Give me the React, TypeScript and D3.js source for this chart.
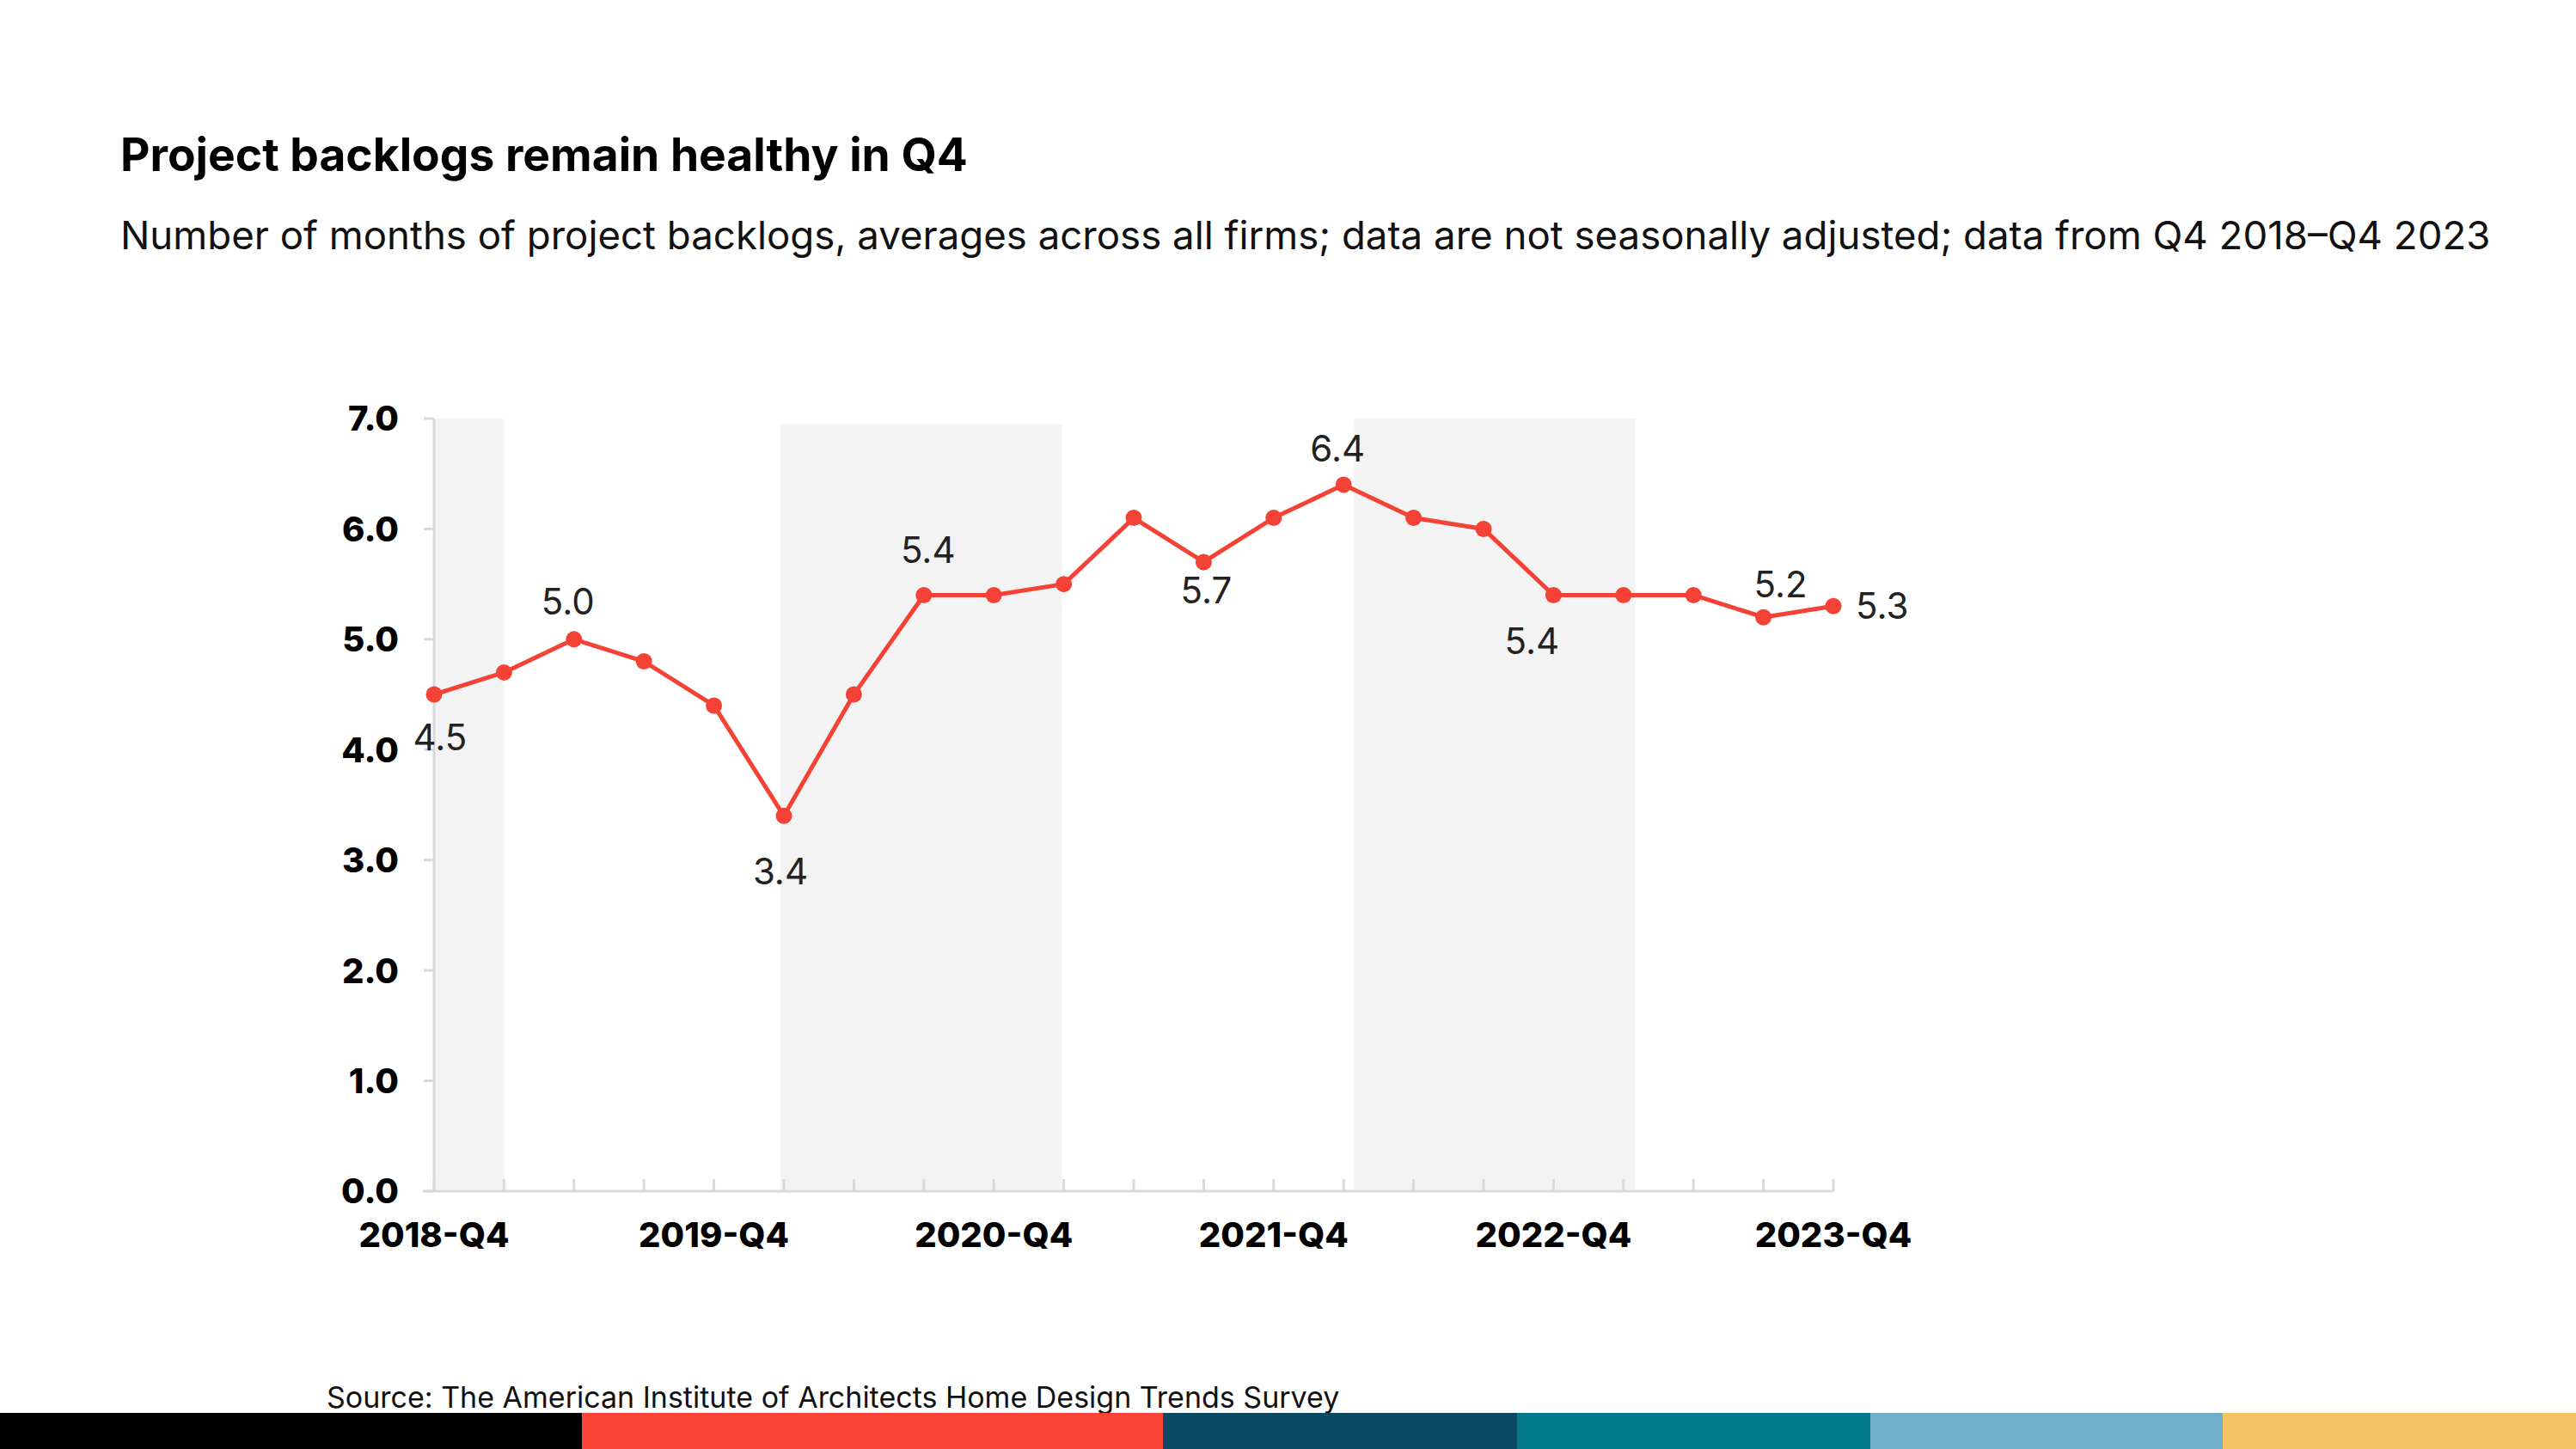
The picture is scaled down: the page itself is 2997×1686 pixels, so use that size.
import React from "react";
import * as d3 from "d3";

const quarters = [
  "2018-Q4","2019-Q1","2019-Q2","2019-Q3","2019-Q4","2020-Q1","2020-Q2","2020-Q3","2020-Q4",
  "2021-Q1","2021-Q2","2021-Q3","2021-Q4","2022-Q1","2022-Q2","2022-Q3","2022-Q4",
  "2023-Q1","2023-Q2","2023-Q3","2023-Q4",
];
const xTickLabels = ["2018-Q4","2019-Q4","2020-Q4","2021-Q4","2022-Q4","2023-Q4"];
const xTickLabelIdx = [0, 4, 8, 12, 16, 20];
const backlog = [4.5, 4.7, 5.0, 4.8, 4.4, 3.4, 4.5, 5.4, 5.4, 5.5, 6.1, 5.7, 6.1, 6.4, 6.1, 6.0, 5.4, 5.4, 5.4, 5.2, 5.3];
const yTicks = [0, 1, 2, 3, 4, 5, 6, 7];
// shaded bands: [startIndex, endIndex, topValue]
const bands: [number, number, number][] = [
  [0, 1, 7.0],
  [4.95, 8.97, 6.95],
  [13.15, 17.17, 7.0],
];
// annotated points
const labelIdx = [0, 2, 5, 7, 11, 13, 16, 19, 20];
const labelDx = [7, -7, -4, 5, 3, -7, -25, 20, 26];
const labelDy = [65, -29, 80, -37, 48, -27, 69, -23, 15];
const labelAnchor = ["middle", "middle", "middle", "middle", "middle", "middle", "middle", "middle", "start"];
const stripeColors = ["#000000", "#F94437", "#0A4A62", "#007A8A", "#70AFC9", "#F3C562"];
const stripeStops = [0, 677, 1353, 1765, 2176, 2586, 2997];

const W = 2997, H = 1686;
const FONT = "Inter, 'Noto Sans', sans-serif";

export default function App() {
  const x = d3.scaleLinear().domain([0, quarters.length - 1]).range([505, 2133]);
  const y = d3.scaleLinear().domain([0, 7]).range([1386, 487]);
  const line = d3.line<number>().x((_, i) => x(i)).y((d) => y(d));
  const axisColor = "#d9d9d9";

  return (
    <svg width={W} height={H} style={{ position: "absolute", left: 0, top: 0, background: "#fff" }} fontFamily={FONT}>
      <rect x={0} y={0} width={W} height={H} fill="#fff" />
      <text x={140} y={199} fontSize={53.3} fontWeight={700} fill="#000">Project backlogs remain healthy in Q4</text>
      <text x={140} y={290} fontSize={45.6} fill="#111">
        Number of months of project backlogs, averages across all firms; data are not seasonally adjusted; data from Q4 2018–Q4 2023
      </text>

      {bands.map(([a, b, t], i) => (
        <rect key={i} x={x(a)} y={y(t)} width={x(b) - x(a)} height={y(0) - y(t) - 2} fill="#f3f3f3" />
      ))}

      {/* y axis */}
      <line x1={505} x2={505} y1={y(7)} y2={y(0)} stroke={axisColor} strokeWidth={3} />
      {yTicks.map((t) => (
        <g key={t}>
          <line x1={493} x2={505} y1={y(t)} y2={y(t)} stroke={axisColor} strokeWidth={3} />
          <text x={464} y={y(t)} dy="0.36em" textAnchor="end" fontSize={40} fontWeight={800} fill="#000">
            {t.toFixed(1)}
          </text>
        </g>
      ))}

      {/* x axis */}
      <line x1={492} x2={x(quarters.length - 1)} y1={y(0)} y2={y(0)} stroke={axisColor} strokeWidth={3} />
      {quarters.map((q, i) => (
        <line key={q} x1={x(i)} x2={x(i)} y1={y(0)} y2={y(0) - 14} stroke={axisColor} strokeWidth={3} />
      ))}
      {xTickLabelIdx.map((idx, k) => (
        <text key={idx} x={x(idx)} y={1451} textAnchor="middle" fontSize={40} fontWeight={800} fill="#000">
          {xTickLabels[k]}
        </text>
      ))}

      <path d={line(backlog) || ""} fill="none" stroke="#F44336" strokeWidth={5} strokeLinejoin="round" />
      {backlog.map((v, i) => (
        <circle key={i} cx={x(i)} cy={y(v)} r={9.5} fill="#F44336" />
      ))}

      {labelIdx.map((idx, k) => (
        <text
          key={idx}
          x={x(idx) + labelDx[k]}
          y={y(backlog[idx]) + labelDy[k]}
          textAnchor={labelAnchor[k] as any}
          fontSize={42}
          fill="#222"
        >
          {backlog[idx].toFixed(1)}
        </text>
      ))}

      <text x={380} y={1638} fontSize={34} fill="#111">Source: The American Institute of Architects Home Design Trends Survey</text>

      {stripeColors.map((c, i) => (
        <rect key={c} x={stripeStops[i]} y={1644} width={stripeStops[i + 1] - stripeStops[i]} height={H - 1644} fill={c} />
      ))}
    </svg>
  );
}
